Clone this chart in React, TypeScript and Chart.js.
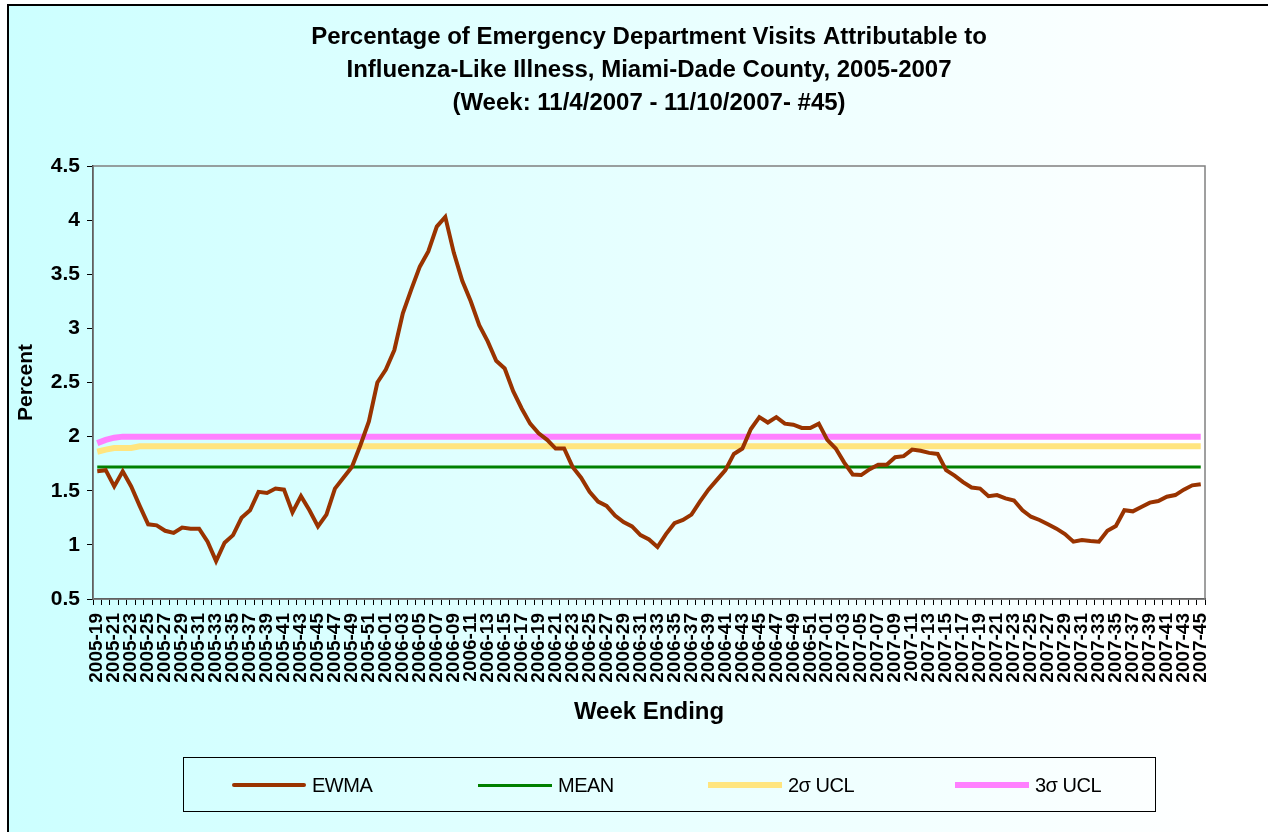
import React, { useEffect, useRef } from 'react';
import { Chart, registerables } from 'chart.js';

Chart.register(...registerables);

const FONT = "'Liberation Sans', Arial, Helvetica, sans-serif";

const titleLines: string[] = [
  'Percentage of Emergency Department Visits Attributable to',
  'Influenza-Like Illness, Miami-Dade County, 2005-2007',
  '(Week: 11/4/2007 - 11/10/2007- #45)',
];

const weekLabels: string[] = [
  '2005-19', '2005-20', '2005-21', '2005-22', '2005-23', '2005-24', '2005-25', '2005-26', '2005-27', '2005-28',
  '2005-29', '2005-30', '2005-31', '2005-32', '2005-33', '2005-34', '2005-35', '2005-36', '2005-37', '2005-38',
  '2005-39', '2005-40', '2005-41', '2005-42', '2005-43', '2005-44', '2005-45', '2005-46', '2005-47', '2005-48',
  '2005-49', '2005-50', '2005-51', '2005-52',
  '2006-01', '2006-02', '2006-03', '2006-04', '2006-05', '2006-06', '2006-07', '2006-08', '2006-09', '2006-10',
  '2006-11', '2006-12', '2006-13', '2006-14', '2006-15', '2006-16', '2006-17', '2006-18', '2006-19', '2006-20',
  '2006-21', '2006-22', '2006-23', '2006-24', '2006-25', '2006-26', '2006-27', '2006-28', '2006-29', '2006-30',
  '2006-31', '2006-32', '2006-33', '2006-34', '2006-35', '2006-36', '2006-37', '2006-38', '2006-39', '2006-40',
  '2006-41', '2006-42', '2006-43', '2006-44', '2006-45', '2006-46', '2006-47', '2006-48', '2006-49', '2006-50',
  '2006-51', '2006-52',
  '2007-01', '2007-02', '2007-03', '2007-04', '2007-05', '2007-06', '2007-07', '2007-08', '2007-09', '2007-10',
  '2007-11', '2007-12', '2007-13', '2007-14', '2007-15', '2007-16', '2007-17', '2007-18', '2007-19', '2007-20',
  '2007-21', '2007-22', '2007-23', '2007-24', '2007-25', '2007-26', '2007-27', '2007-28', '2007-29', '2007-30',
  '2007-31', '2007-32', '2007-33', '2007-34', '2007-35', '2007-36', '2007-37', '2007-38', '2007-39', '2007-40',
  '2007-41', '2007-42', '2007-43', '2007-44', '2007-45',
];

const ewma: number[] = [
  1.68, 1.69, 1.54, 1.68, 1.54, 1.36, 1.19, 1.18, 1.13, 1.11,
  1.16, 1.15, 1.15, 1.03, 0.85, 1.02, 1.09, 1.25, 1.32, 1.49,
  1.48, 1.52, 1.51, 1.30, 1.45, 1.32, 1.17, 1.28, 1.52, 1.62,
  1.72, 1.92, 2.14, 2.50, 2.62, 2.80, 3.14, 3.36, 3.57, 3.71,
  3.94, 4.03, 3.70, 3.44, 3.25, 3.03, 2.88, 2.70, 2.63, 2.42,
  2.26, 2.12, 2.03, 1.97, 1.89, 1.89, 1.72, 1.62, 1.49, 1.40,
  1.36, 1.27, 1.21, 1.17, 1.09, 1.05, 0.98, 1.10, 1.20, 1.23,
  1.28, 1.40, 1.51, 1.60, 1.69, 1.84, 1.89, 2.07, 2.18, 2.13,
  2.18, 2.12, 2.11, 2.08, 2.08, 2.12, 1.97, 1.89, 1.76, 1.65,
  1.645, 1.70, 1.74, 1.74, 1.81, 1.82, 1.88, 1.87, 1.85, 1.84,
  1.69, 1.64, 1.58, 1.53, 1.52, 1.45, 1.46, 1.43, 1.41, 1.32,
  1.26, 1.23, 1.19, 1.15, 1.10, 1.03, 1.045, 1.035, 1.03, 1.13,
  1.175, 1.32, 1.31, 1.35, 1.39, 1.405, 1.445, 1.46, 1.51, 1.55,
  1.56,
];

const mean: number[] = [
  1.72, 1.72, 1.72, 1.72, 1.72, 1.72, 1.72, 1.72, 1.72, 1.72,
  1.72, 1.72, 1.72, 1.72, 1.72, 1.72, 1.72, 1.72, 1.72, 1.72,
  1.72, 1.72, 1.72, 1.72, 1.72, 1.72, 1.72, 1.72, 1.72, 1.72,
  1.72, 1.72, 1.72, 1.72, 1.72, 1.72, 1.72, 1.72, 1.72, 1.72,
  1.72, 1.72, 1.72, 1.72, 1.72, 1.72, 1.72, 1.72, 1.72, 1.72,
  1.72, 1.72, 1.72, 1.72, 1.72, 1.72, 1.72, 1.72, 1.72, 1.72,
  1.72, 1.72, 1.72, 1.72, 1.72, 1.72, 1.72, 1.72, 1.72, 1.72,
  1.72, 1.72, 1.72, 1.72, 1.72, 1.72, 1.72, 1.72, 1.72, 1.72,
  1.72, 1.72, 1.72, 1.72, 1.72, 1.72, 1.72, 1.72, 1.72, 1.72,
  1.72, 1.72, 1.72, 1.72, 1.72, 1.72, 1.72, 1.72, 1.72, 1.72,
  1.72, 1.72, 1.72, 1.72, 1.72, 1.72, 1.72, 1.72, 1.72, 1.72,
  1.72, 1.72, 1.72, 1.72, 1.72, 1.72, 1.72, 1.72, 1.72, 1.72,
  1.72, 1.72, 1.72, 1.72, 1.72, 1.72, 1.72, 1.72, 1.72, 1.72,
  1.72,
];

const ucl2: number[] = [
  1.86, 1.88, 1.895, 1.895, 1.895, 1.91, 1.91, 1.91, 1.91, 1.91,
  1.91, 1.91, 1.91, 1.91, 1.91, 1.91, 1.91, 1.91, 1.91, 1.91,
  1.91, 1.91, 1.91, 1.91, 1.91, 1.91, 1.91, 1.91, 1.91, 1.91,
  1.91, 1.91, 1.91, 1.91, 1.91, 1.91, 1.91, 1.91, 1.91, 1.91,
  1.91, 1.91, 1.91, 1.91, 1.91, 1.91, 1.91, 1.91, 1.91, 1.91,
  1.91, 1.91, 1.91, 1.91, 1.91, 1.91, 1.91, 1.91, 1.91, 1.91,
  1.91, 1.91, 1.91, 1.91, 1.91, 1.91, 1.91, 1.91, 1.91, 1.91,
  1.91, 1.91, 1.91, 1.91, 1.91, 1.91, 1.91, 1.91, 1.91, 1.91,
  1.91, 1.91, 1.91, 1.91, 1.91, 1.91, 1.91, 1.91, 1.91, 1.91,
  1.91, 1.91, 1.91, 1.91, 1.91, 1.91, 1.91, 1.91, 1.91, 1.91,
  1.91, 1.91, 1.91, 1.91, 1.91, 1.91, 1.91, 1.91, 1.91, 1.91,
  1.91, 1.91, 1.91, 1.91, 1.91, 1.91, 1.91, 1.91, 1.91, 1.91,
  1.91, 1.91, 1.91, 1.91, 1.91, 1.91, 1.91, 1.91, 1.91, 1.91,
  1.91,
];

const ucl3: number[] = [
  1.94, 1.97, 1.99, 2.0, 2.0, 2.0, 2.0, 2.0, 2.0, 2.0,
  2.0, 2.0, 2.0, 2.0, 2.0, 2.0, 2.0, 2.0, 2.0, 2.0,
  2.0, 2.0, 2.0, 2.0, 2.0, 2.0, 2.0, 2.0, 2.0, 2.0,
  2.0, 2.0, 2.0, 2.0, 2.0, 2.0, 2.0, 2.0, 2.0, 2.0,
  2.0, 2.0, 2.0, 2.0, 2.0, 2.0, 2.0, 2.0, 2.0, 2.0,
  2.0, 2.0, 2.0, 2.0, 2.0, 2.0, 2.0, 2.0, 2.0, 2.0,
  2.0, 2.0, 2.0, 2.0, 2.0, 2.0, 2.0, 2.0, 2.0, 2.0,
  2.0, 2.0, 2.0, 2.0, 2.0, 2.0, 2.0, 2.0, 2.0, 2.0,
  2.0, 2.0, 2.0, 2.0, 2.0, 2.0, 2.0, 2.0, 2.0, 2.0,
  2.0, 2.0, 2.0, 2.0, 2.0, 2.0, 2.0, 2.0, 2.0, 2.0,
  2.0, 2.0, 2.0, 2.0, 2.0, 2.0, 2.0, 2.0, 2.0, 2.0,
  2.0, 2.0, 2.0, 2.0, 2.0, 2.0, 2.0, 2.0, 2.0, 2.0,
  2.0, 2.0, 2.0, 2.0, 2.0, 2.0, 2.0, 2.0, 2.0, 2.0,
  2.0,
];

const yTickValues: number[] = [0.5, 1, 1.5, 2, 2.5, 3, 3.5, 4, 4.5];

const seriesNames: string[] = ['EWMA', 'MEAN', '2σ UCL', '3σ UCL'];
const seriesColors: string[] = ['#993300', '#008000', '#FFE57F', '#FF80FF'];
const seriesWidths: number[] = [4, 3, 6, 6];

const backgroundPlugin = {
  id: 'bgFrame',
  beforeDraw(chart: any) {
    const { ctx, width, height } = chart;
    ctx.save();
    ctx.fillStyle = '#ffffff';
    ctx.fillRect(0, 0, width, height);
    const g = ctx.createLinearGradient(9, 0, 1210, 0);
    g.addColorStop(0, '#CCFFFF');
    g.addColorStop(1, '#FFFFFF');
    ctx.fillStyle = g;
    ctx.fillRect(9, 6, width - 9, height - 6);
    ctx.strokeStyle = '#000000';
    ctx.lineWidth = 2;
    ctx.beginPath();
    ctx.moveTo(8, height);
    ctx.lineTo(8, 5);
    ctx.lineTo(width, 5);
    ctx.stroke();
    ctx.restore();
  },
  beforeDatasetsDraw(chart: any) {
    const { ctx, chartArea } = chart;
    ctx.save();
    ctx.strokeStyle = '#808080';
    ctx.lineWidth = 1.5;
    ctx.strokeRect(chartArea.left, chartArea.top, chartArea.right - chartArea.left, chartArea.bottom - chartArea.top);
    ctx.restore();
  },
};

export default function App() {
  const canvasRef = useRef<HTMLCanvasElement | null>(null);

  useEffect(() => {
    if (!canvasRef.current) return;
    const seriesData = [ewma, mean, ucl2, ucl3];
    const chart = new Chart(canvasRef.current, {
      type: 'line',
      data: {
        labels: weekLabels,
        datasets: seriesNames.map((name, i) => ({
          label: name,
          data: seriesData[i],
          borderColor: seriesColors[i],
          backgroundColor: seriesColors[i],
          borderWidth: seriesWidths[i],
          pointRadius: 0,
          pointHoverRadius: 0,
          tension: 0,
          fill: false,
        })),
      },
      options: {
        responsive: false,
        maintainAspectRatio: false,
        devicePixelRatio: 1,
        animation: false,
        layout: { padding: { top: 0, left: 0, right: 63, bottom: 93 } },
        plugins: {
          legend: { display: false },
          tooltip: { enabled: false },
          title: {
            display: true,
            text: titleLines,
            fullSize: false,
            color: '#000000',
            font: { family: FONT, size: 24, weight: 'bold', lineHeight: 1.375 },
            padding: { top: 21, bottom: 46 },
          },
        },
        scales: {
          x: {
            type: 'category',
            offset: true,
            grid: {
              display: true,
              offset: true,
              drawOnChartArea: false,
              drawTicks: true,
              tickLength: 6,
              tickColor: '#000000',
              tickWidth: 1,
            },
            border: { display: true, color: '#000000', width: 1.5 },
            ticks: {
              autoSkip: false,
              minRotation: 90,
              maxRotation: 90,
              padding: 8,
              color: '#000000',
              font: { family: FONT, size: 19, weight: 'bold' },
              callback: (_v: any, i: number) => (i % 2 === 0 ? weekLabels[i] : ''),
            },
            title: {
              display: true,
              text: 'Week Ending',
              color: '#000000',
              font: { family: FONT, size: 24, weight: 'bold', lineHeight: 1.2 },
              padding: { top: 0, bottom: 12 },
            },
            afterFit: (scale: any) => {
              scale.height = 140;
            },
          },
          y: {
            type: 'linear',
            min: 0.5,
            max: 4.5,
            afterBuildTicks: (scale: any) => {
              scale.ticks = yTickValues.map((v) => ({ value: v }));
            },
            grid: {
              display: true,
              drawOnChartArea: false,
              drawTicks: true,
              tickLength: 6,
              tickColor: '#000000',
            },
            border: { display: true, color: '#000000', width: 1.5 },
            ticks: {
              padding: 7,
              color: '#000000',
              font: { family: FONT, size: 21, weight: 'bold' },
              callback: (v: any) => String(v),
            },
            title: {
              display: true,
              text: 'Percent',
              color: '#000000',
              font: { family: FONT, size: 21, weight: 'bold', lineHeight: 1.2 },
              padding: { top: 14, bottom: 0 },
            },
            afterFit: (scale: any) => {
              scale.width = 93;
            },
          },
        },
      } as any,
      plugins: [backgroundPlugin],
    });
    return () => chart.destroy();
  }, []);

  const legendLeft = [232, 478, 708, 955];

  return (
    <div style={{ position: 'absolute', left: 0, top: 0, width: 1268, height: 832, overflow: 'hidden' }}>
      <canvas
        ref={canvasRef}
        width={1268}
        height={832}
        style={{ position: 'absolute', left: 0, top: 0, width: 1268, height: 832 }}
      />
      <div
        style={{
          position: 'absolute',
          left: 183,
          top: 757,
          width: 973,
          height: 55,
          border: '1.5px solid #000000',
          boxSizing: 'border-box',
        }}
      />
      {seriesNames.map((name, i) => (
        <div
          key={name}
          style={{
            position: 'absolute',
            left: legendLeft[i],
            top: 772,
            height: 26,
            display: 'flex',
            alignItems: 'center',
            fontFamily: FONT,
            fontSize: 20,
            color: '#000000',
            whiteSpace: 'nowrap',
            letterSpacing: '-0.5px',
          }}
        >
          <span
            style={{
              display: 'inline-block',
              width: 74,
              height: seriesWidths[i],
              background: seriesColors[i],
              marginRight: 6,
              borderRadius: i === 0 ? 2 : 0,
            }}
          />
          <span>{name}</span>
        </div>
      ))}
    </div>
  );
}
